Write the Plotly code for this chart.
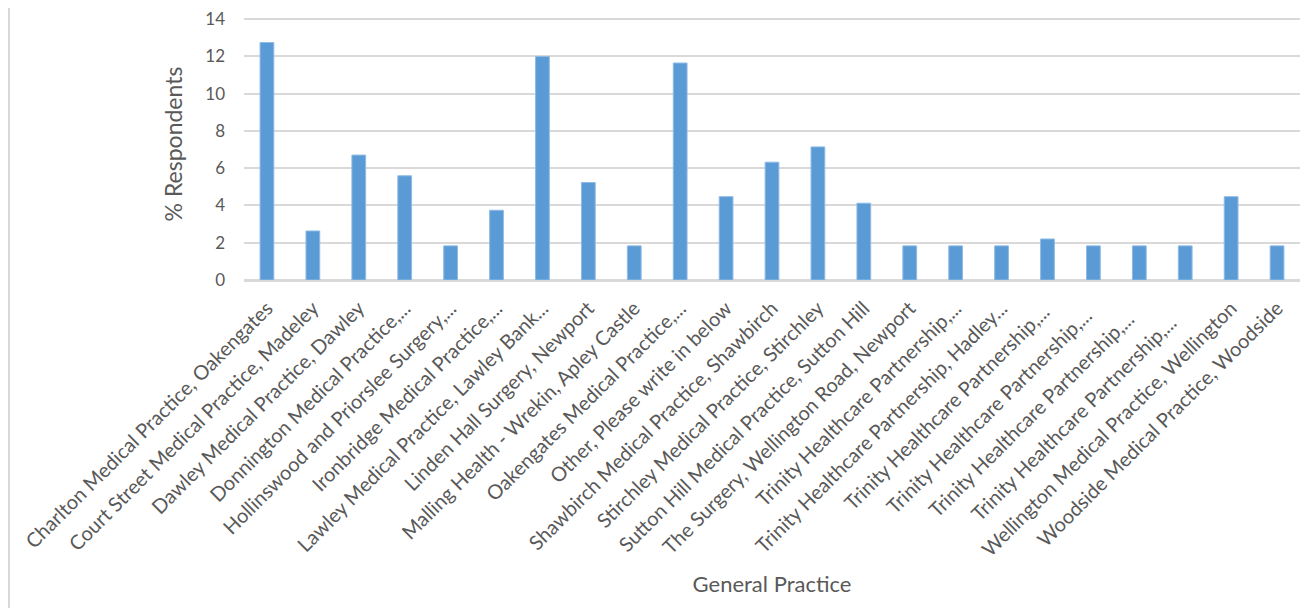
import plotly.graph_objects as go

categories = [
    "Charlton Medical Practice, Oakengates",
    "Court Street Medical Practice, Madeley",
    "Dawley Medical Practice, Dawley",
    "Donnington Medical Practice,...",
    "Hollinswood and Priorslee Surgery,...",
    "Ironbridge Medical Practice,...",
    "Lawley Medical Practice, Lawley Bank...",
    "Linden Hall Surgery, Newport",
    "Malling Health - Wrekin, Apley Castle",
    "Oakengates Medical Practice,...",
    "Other, Please write in below",
    "Shawbirch Medical Practice, Shawbirch",
    "Stirchley Medical Practice, Stirchley",
    "Sutton Hill Medical Practice, Sutton Hill",
    "The Surgery, Wellington Road, Newport",
    "Trinity Healthcare Partnership,...",
    "Trinity Healthcare Partnership, Hadley...",
    "Trinity Healthcare Partnership,... ",
    "Trinity Healthcare Partnership,...  ",
    "Trinity Healthcare Partnership,...   ",
    "Trinity Healthcare Partnership,...    ",
    "Wellington Medical Practice, Wellington",
    "Woodside Medical Practice, Woodside",
]
values = [12.74, 2.63, 6.70, 5.59, 1.83, 3.74, 11.99, 5.23, 1.83, 11.64, 4.47,
          6.32, 7.14, 4.12, 1.83, 1.83, 1.83, 2.20, 1.83, 1.83, 1.83, 4.47, 1.83]
y_ticks = [0, 2, 4, 6, 8, 10, 12, 14]

FONT = "Lato"
GREY = "#595959"

W, H = 1300, 600
L, T, R, B = 236, 0, 8, 328
PW, PH = W - L - R, H - T - B
Y_TOP_PX = 11  # pixel position (figure coords) of the 14 gridline
y_max = 14 + Y_TOP_PX * 14 / (PH - Y_TOP_PX)

fig = go.Figure(go.Bar(
    x=categories, y=values,
    marker=dict(color="#5b9bd5", line=dict(color="#8fbbe5", width=1)),
))

fig.update_layout(
    width=W, height=H,
    margin=dict(l=L, r=R, t=T, b=B),
    paper_bgcolor="white", plot_bgcolor="white",
    bargap=0.7, showlegend=False,
    font=dict(family=FONT, color=GREY, size=18),
    xaxis=dict(
        tickangle=-45, tickfont=dict(size=20, color=GREY),
        showgrid=False, showline=True, linecolor="#d9d9d9", linewidth=1.5,
        ticks="", ticklabelstandoff=7,
        title=dict(text="General Practice", font=dict(size=22, color=GREY), standoff=17),
        automargin=False,
    ),
    yaxis=dict(
        range=[0, y_max], tickvals=y_ticks, tickfont=dict(size=17, color=GREY),
        showgrid=True, gridcolor="#d9d9d9", gridwidth=1.5,
        zeroline=True, zerolinecolor="#d9d9d9", zerolinewidth=1.5,
        ticks="", ticklabelstandoff=18, ticklabeloverflow="allow",
        title=dict(text="% Respondents", font=dict(size=23, color=GREY), standoff=16),
        automargin=False,
    ),
)
fig.add_shape(type="line", xref="paper", yref="paper",
              x0=-(L - 1) / PW, x1=-(L - 1) / PW, y0=-1.3, y1=1.1,
              line=dict(color="#d9d9d9", width=2))

fig.write_html("out.html")
